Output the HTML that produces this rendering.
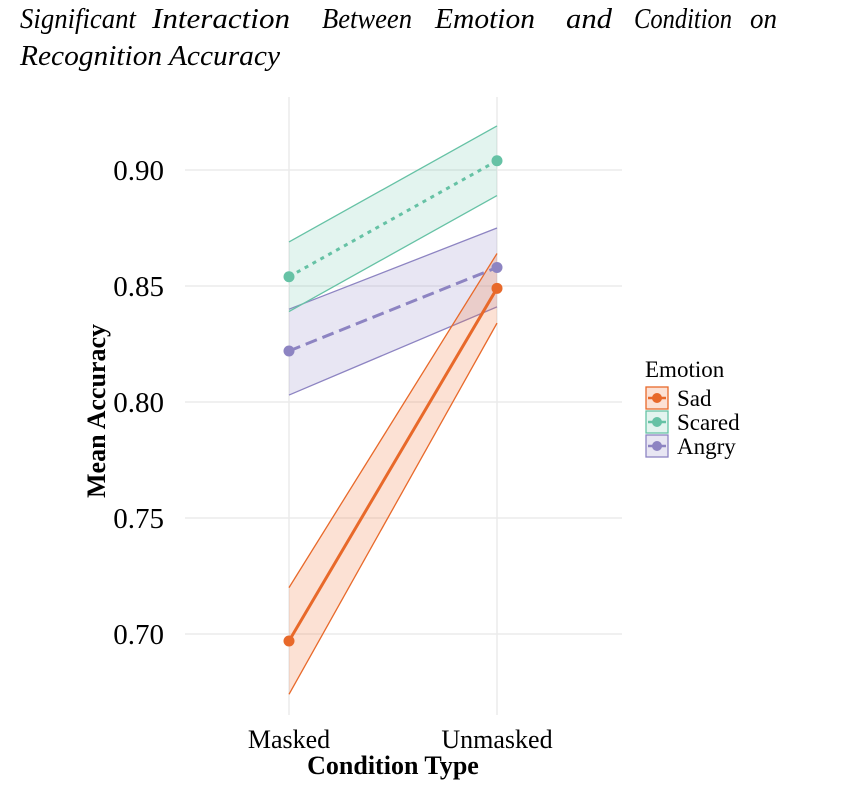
<!DOCTYPE html>
<html><head><meta charset="utf-8">
<style>
body{margin:0;background:#fff;}
svg{display:block;font-family:"Liberation Serif",serif;}
</style></head><body>
<svg id="chart" width="852" height="802" viewBox="0 0 852 802">
<g font-size="29" font-style="italic">
<text x="20" y="28" textLength="116" lengthAdjust="spacingAndGlyphs">Significant</text>
<text x="152" y="28" textLength="138" lengthAdjust="spacingAndGlyphs">Interaction</text>
<text x="322" y="28" textLength="90" lengthAdjust="spacingAndGlyphs">Between</text>
<text x="435" y="28" textLength="100" lengthAdjust="spacingAndGlyphs">Emotion</text>
<text x="566" y="28" textLength="46" lengthAdjust="spacingAndGlyphs">and</text>
<text x="634" y="28" textLength="98" lengthAdjust="spacingAndGlyphs">Condition</text>
<text x="750" y="28" textLength="27" lengthAdjust="spacingAndGlyphs">on</text>
</g>
<text x="20" y="65" font-size="29" font-style="italic" textLength="260" lengthAdjust="spacingAndGlyphs">Recognition Accuracy</text>
<g id="grid"></g>
<g id="marks"></g>
<text transform="translate(105,411) rotate(-90)" text-anchor="middle" font-size="26" font-weight="bold">Mean Accuracy</text>
<text x="393" y="774" text-anchor="middle" font-size="26" font-weight="bold">Condition Type</text>
<g id="legend">
<text x="645" y="377" font-size="23">Emotion</text>
</g>
</svg>
<script>
const categories=["Masked","Unmasked"];
const series=["Sad","Scared","Angry"];
const sadMean=[0.697,0.849], sadLo=[0.674,0.834], sadHi=[0.720,0.864];
const scaredMean=[0.854,0.904], scaredLo=[0.839,0.889], scaredHi=[0.869,0.919];
const angryMean=[0.822,0.858], angryLo=[0.803,0.841], angryHi=[0.840,0.875];
const yTicks=[0.70,0.75,0.80,0.85,0.90];
const yTickLabels=["0.70","0.75","0.80","0.85","0.90"];

const NS="http://www.w3.org/2000/svg";
const yS=v=>634-(v-0.70)*2320;
const xS=i=>289+i*208;
function mk(tag,attrs,parent){const e=document.createElementNS(NS,tag);for(const k in attrs)e.setAttribute(k,attrs[k]);parent.appendChild(e);return e;}
const grid=document.getElementById('grid'),marks=document.getElementById('marks'),legend=document.getElementById('legend');
yTicks.forEach((t,i)=>{
  const l=mk('line',{x1:185,x2:622,y1:yS(t),y2:yS(t),stroke:'#ebebeb','stroke-width':1.5},grid);
  
  
  const tx=mk('text',{x:164,y:yS(t)+10,'text-anchor':'end','font-size':29},grid);
  tx.textContent=yTickLabels[i];
  
  
});
categories.forEach((c,i)=>{
  const l=mk('line',{x1:xS(i),x2:xS(i),y1:97,y2:715,stroke:'#ebebeb','stroke-width':1.5},grid);
  
  
  const tx=mk('text',{x:xS(i),y:748,'text-anchor':'middle','font-size':26},grid);
  tx.textContent=c;
  
  
});
const cfg=[
 {name:'sad',m:sadMean,lo:sadLo,hi:sadHi,col:'#e8692a',fill:'rgba(240,120,60,0.22)',dash:''},
 {name:'scared',m:scaredMean,lo:scaredLo,hi:scaredHi,col:'#66c2a5',fill:'rgba(102,194,165,0.18)',dash:'4,5'},
 {name:'angry',m:angryMean,lo:angryLo,hi:angryHi,col:'#8d84c2',fill:'rgba(141,132,194,0.2)',dash:'12,6'}
];
[cfg[2],cfg[1],cfg[0]].forEach(s=>{
  const pts=s.hi.map((v,i)=>xS(i)+','+yS(v)).concat(s.lo.map((v,i)=>[i,v]).reverse().map(([i,v])=>xS(i)+','+yS(v)));
  const r=mk('polygon',{points:pts.join(' '),fill:s.fill,stroke:'none'},marks);
  
  
  [s.hi,s.lo].forEach(arr=>{
    const b=mk('line',{x1:xS(0),y1:yS(arr[0]),x2:xS(1),y2:yS(arr[1]),stroke:s.col,'stroke-width':1.3},marks);
    
    
  });
});
cfg.forEach(s=>{
  const l=mk('line',{x1:xS(0),y1:yS(s.m[0]),x2:xS(1),y2:yS(s.m[1]),stroke:s.col,'stroke-width':3},marks);
  if(s.dash)l.setAttribute('stroke-dasharray',s.dash);
  
  
  s.m.forEach((v,i)=>{
    const p=mk('circle',{cx:xS(i),cy:yS(v),r:5.5,fill:s.col},marks);
    
    
  });
});
series.forEach((n,i)=>{
  const s=cfg[i],y=387+i*24;
  const g=mk('g',{},legend);
  
  
  mk('rect',{x:646,y:y,width:22,height:22,fill:s.fill,stroke:s.col,'stroke-width':1.3},g);
  mk('line',{x1:648,x2:666,y1:y+11,y2:y+11,stroke:s.col,'stroke-width':2.5},g);
  mk('circle',{cx:657,cy:y+11,r:5,fill:s.col},g);
  const t=mk('text',{x:677,y:y+19,'font-size':23},g);
  t.textContent=n;
});
</script>
</body></html>
